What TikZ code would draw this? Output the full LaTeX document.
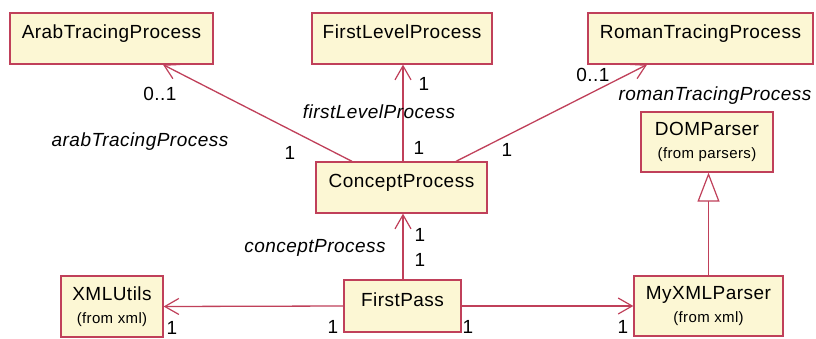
\documentclass[tikz,border=0pt]{standalone}
\usepackage{fontspec}
\setmainfont{Liberation Sans}[LetterSpace=2.5]
\usetikzlibrary{arrows.meta}
\definecolor{umlred}{RGB}{192,64,90}
\definecolor{umlfill}{RGB}{252,247,212}
\tikzset{
  cls/.style={draw=umlred, fill=umlfill, line width=1.3pt, inner sep=0pt,
    font=\fontsize{19}{23}\selectfont, align=center},
  onecls/.style={cls, text height=14pt, text depth=14pt},
  assoc/.style={draw=umlred, line width=1.3pt, -{Straight Barb[length=14pt,width=16pt,line width=1.2pt]}},
  gen/.style={draw=umlred, line width=1.3pt, -{Triangle[open,length=29pt,width=22pt,fill=white,line width=1.2pt]}},
  plain/.style={draw=umlred, line width=1.3pt},
  mult/.style={font=\fontsize{19}{23}\selectfont, inner sep=0pt},
  role/.style={font=\fontsize{19}{23}\selectfont\itshape, inner sep=0pt},
}
\newcommand{\fromtxt}[1]{{\fontsize{15}{23}\selectfont #1}}
\begin{document}
\begin{tikzpicture}[x=1pt,y=-1pt]
\useasboundingbox[fill=white] (0,0) rectangle (816,338);
% classes
\node[onecls, minimum width=203pt, minimum height=51pt] (arab) at (111.5,38.5) {ArabTracingProcess};
\node[onecls, minimum width=180pt, minimum height=51pt] (flp) at (402,38.5) {FirstLevelProcess};
\node[onecls, minimum width=225pt, minimum height=51pt] (roman) at (700.5,38.5) {RomanTracingProcess};
\node[cls, minimum width=132pt, minimum height=60pt] (dom) at (707,142) {DOMParser\\\fromtxt{(from parsers)}};
\node[onecls, minimum width=171pt, minimum height=51pt] (cp) at (401.5,187.5) {ConceptProcess};
\node[onecls, minimum width=117pt, minimum height=52pt] (fp) at (402.5,306) {FirstPass};
\node[cls, minimum width=102pt, minimum height=61pt] (xu) at (112,306.5) {XMLUtils\\\fromtxt{(from xml)}};
\node[cls, minimum width=149pt, minimum height=60pt] (mx) at (708.5,306) {MyXMLParser\\\fromtxt{(from xml)}};
% connectors
\draw[assoc] ([xshift=-49.5pt]cp.north) -- ([xshift=51.5pt]arab.south);
\draw[assoc] ([xshift=1.5pt]cp.north) -- ([xshift=1pt]flp.south);
\draw[assoc] ([xshift=54.5pt]cp.north) -- ([xshift=-53.5pt]roman.south);
\draw[assoc] ([xshift=0.5pt]fp.north) -- ([xshift=1.5pt]cp.south);
\draw[assoc] (fp.west) -- (xu.east);
\draw[assoc] (fp.east) -- (mx.west);
\draw[gen] (mx.north) -- (mx.north |- dom.south);
% labels
\node[mult] (m1) at (160,94) {0..1};
\node[role] (r1) at (140,142) {arabTracingProcess};
\node[mult] (m2) at (290,153) {1};
\node[mult] (m3) at (424,84) {1};
\node[role] (r2) at (379,112) {firstLevelProcess};
\node[mult] (m4) at (419,148) {1};
\node[mult] (m5) at (507,150) {1};
\node[mult] (m6) at (593,75) {0..1};
\node[role] (r3) at (715,96) {romanTracingProcess};
\node[role] (r4) at (315,248) {conceptProcess};
\node[mult] (m7) at (420,235) {1};
\node[mult] (m8) at (420,260) {1};
\node[mult] (m9) at (172,328) {1};
\node[mult] (m10) at (333,327) {1};
\node[mult] (m11) at (468,327) {1};
\node[mult] (m12) at (623,327) {1};
\end{tikzpicture}
\end{document}
